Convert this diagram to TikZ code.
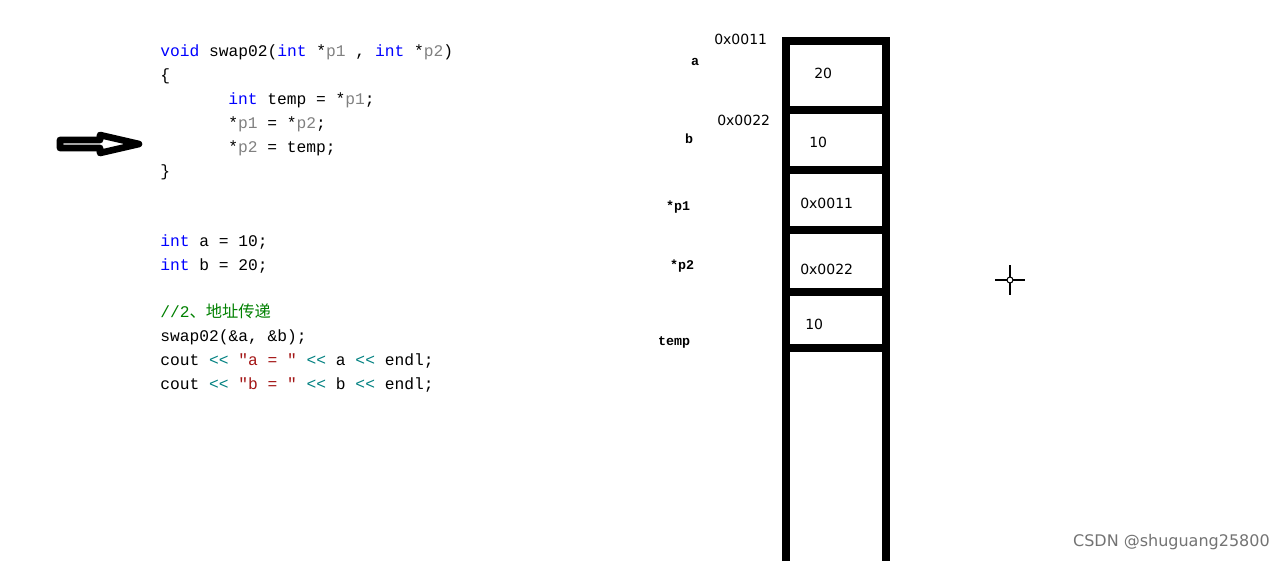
\documentclass[tikz,border=0pt]{standalone}
\usepackage{fontspec}
\setmonofont{Liberation Mono}
\setsansfont{DejaVu Sans}
\newfontfamily\cjk{Noto Sans CJK SC}
\definecolor{kw}{RGB}{0,0,255}
\definecolor{pv}{RGB}{128,128,128}
\definecolor{cm}{RGB}{0,128,0}
\definecolor{st}{RGB}{163,21,21}
\definecolor{op}{RGB}{0,128,128}
\tikzset{
  code/.style={anchor=base west, inner sep=0pt, font=\ttfamily\fontsize{12.2}{12}\selectfont},
  lbl/.style={inner sep=0pt, font=\ttfamily\bfseries\fontsize{10}{10}\selectfont},
  cell/.style={inner sep=0pt, font=\sffamily\fontsize{10.5}{10.5}\selectfont, anchor=west},
}
\newcommand{\kw}[1]{\textcolor{kw}{#1}}
\newcommand{\pv}[1]{\textcolor{pv}{#1}}
\begin{document}
\begin{tikzpicture}[x=0.75pt,y=0.75pt,yscale=-1]
\useasboundingbox (0,0) rectangle (1285,561);

% Code
\node[code] (l1) at (160,56) {\kw{void} swap02(\kw{int} *\pv{p1} , \kw{int} *\pv{p2})};
\node[code] (l2) at (160,80) {\{};
\node[code] (l3) at (228,104) {\kw{int} temp = *\pv{p1};};
\node[code] (l4) at (228,128) {*\pv{p1} = *\pv{p2};};
\node[code] (l5) at (228,152) {*\pv{p2} = temp;};
\node[code] (l6) at (160,176) {\}};
\node[code] (l7) at (160,246) {\kw{int} a = 10;};
\node[code] (l8) at (160,270) {\kw{int} b = 20;};
\node[code] (l9) at (160,317) {\textcolor{cm}{//2{\cjk 、地址传递}}};
\node[code] (l10) at (160,341) {swap02(\&a, \&b);};
\node[code] (l11) at (160,365) {cout \textcolor{op}{<{}<} \textcolor{st}{"a = "} \textcolor{op}{<{}<} a \textcolor{op}{<{}<} endl;};
\node[code] (l12) at (160,389) {cout \textcolor{op}{<{}<} \textcolor{st}{"b = "} \textcolor{op}{<{}<} b \textcolor{op}{<{}<} endl;};

% Pointer arrow
\draw[line width=5pt, line join=round] (60,140) -- (100,140) -- (100,135) -- (139,144) -- (100,153) -- (100,148) -- (60,148) -- cycle;

% Stack
\draw[line width=5.5pt] (786,561) -- (786,41) -- (886,41) -- (886,561);
\foreach \y in {110,170,230,292,348}
  \draw[line width=5.5pt] (786,\y) -- (886,\y);

\node[cell] (va) at (814,73) {20};
\node[cell] (vb) at (809,142) {10};
\node[cell] (vp1) at (800,203) {0x0011};
\node[cell] (vp2) at (800,269) {0x0022};
\node[cell] (vt) at (805,324) {10};

\node[cell] (ada) at (714,39) {0x0011};
\node[cell] (adb) at (717,120) {0x0022};

\node[lbl] (na) at (695,62) {a};
\node[lbl] (nb) at (689,139) {b};
\node[lbl] (np1) at (678,207) {*p1};
\node[lbl] (np2) at (682,266) {*p2};
\node[lbl] (nt) at (674,342) {temp};

% Cursor
\draw[line width=1pt] (1010,265) -- (1010,295) (995,280) -- (1025,280);
\draw[line width=0.8pt, fill=white] (1010,280) circle (3);

\node[inner sep=0pt, anchor=east, text=black!55, font=\sffamily\fontsize{12}{12}\selectfont] (wm) at (1270,542) {CSDN @shuguang25800};
\end{tikzpicture}
\end{document}
